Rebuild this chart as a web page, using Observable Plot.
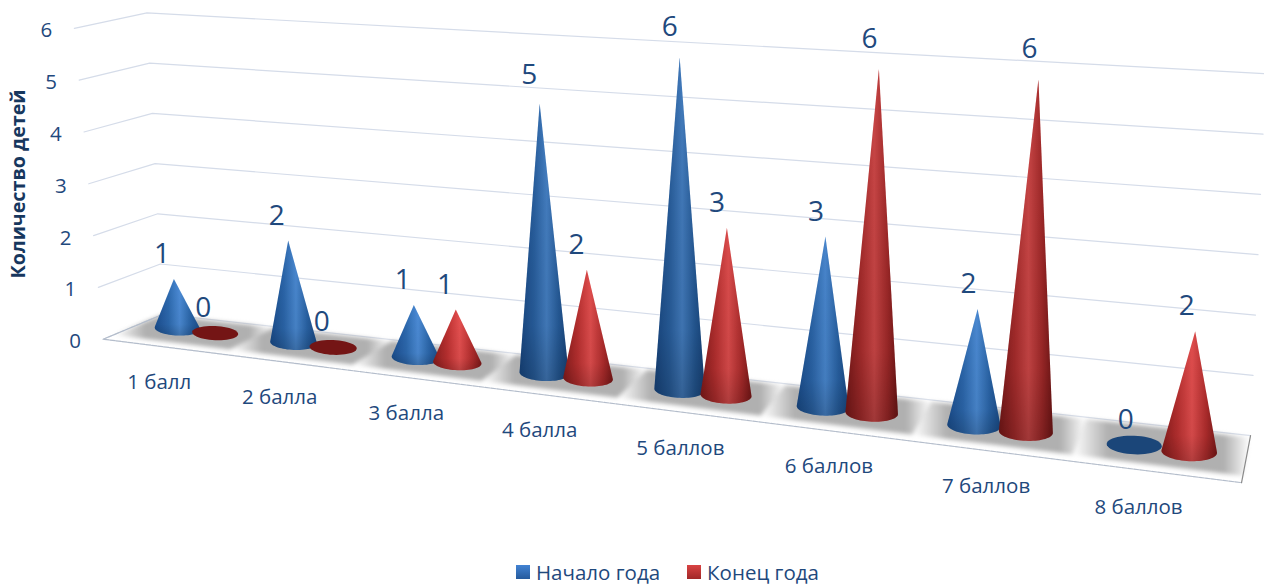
<!DOCTYPE html>
<html>
<head>
<meta charset="utf-8">
<script src="https://cdn.jsdelivr.net/npm/d3@7"></script>
<script src="https://cdn.jsdelivr.net/npm/@observablehq/plot@0.6"></script>
<style>
html,body{margin:0;padding:0;background:#fff;overflow:hidden;font-family:"Open Sans",sans-serif}
#legend{height:32px;display:flex;align-items:center;color:#1f497d;font-size:20.5px;padding-left:516px;box-sizing:border-box;line-height:1;padding-top:8px}
#legend i{display:inline-block;width:14px;height:14px;margin-right:6px}
#legend span{display:inline-flex;align-items:center;margin-right:27px}
</style>
</head>
<body>
<div id="chart"></div>
<div id="legend"></div>
<script>
const categories = ["1 балл","2 балла","3 балла","4 балла","5 баллов","6 баллов","7 баллов","8 баллов"];
const startOfYear = [1,2,1,5,6,3,2,0];
const endOfYear = [0,0,1,2,3,6,6,2];
const levels = [0,1,2,3,4,5,6];
const seriesNames = ["Начало года","Конец года"];
const axisTitle = "Количество детей";

const W = 1264, H = 552;
const ink = "#1f497d";

// Perspective view of the chart's box: p runs along the categories, d across the floor
// (-1 front edge, 0 the row of cones, 1 back wall), level is the value axis.
const along = p => (108.9 * p + 177) / (1 - 0.0245 * p);
const pL = -0.335, pR = 7.665;
const lerp = (a, b, t) => a + (b - a) * t;
const tOf = p => (along(p) - along(pL)) / (along(pR) - along(pL));
function place(p, d, level = 0) {
  const x0 = along(p), t = tOf(p);
  const y0 = 306.44 + 0.1218 * x0;
  const dx = d > 0 ? lerp(23.3, 4.4, t) * d : lerp(36.7, 4.6, t) * d;
  const dy = d > 0 ? lerp(-9.7, -23, t) * d : lerp(-15.3, -24, t) * d;
  const lean = 0.9 * (p - 4) + d * lerp(d > 0 ? 1.2 : 0.9, -0.8, t);
  const unit = 49.6 + 1.45 * p + Math.abs(d) * lerp(d > 0 ? 1.1 : 2.7, -0.4, t);
  return {x: x0 + dx + lean * level, y: y0 + dy - unit * level};
}
const depth = p => 1 / (1 - 0.0245 * p);

// Cones
const seriesOffset = [0, 0.33];
const seriesValues = [startOfYear, endOfYear];
const cones = [];
categories.forEach((c, i) => seriesValues.forEach((vals, s) => {
  cones.push({category: c, series: s, p: i + seriesOffset[s], value: vals[i]});
}));
function conePoints(c) {
  const base = place(c.p, 0, 0), apex = place(c.p, 0, c.value);
  const a = 22.8 * depth(c.p), b = 7 * Math.pow(depth(c.p), 1.5);
  const pts = [];
  const ell = th => ({x: base.x + a * Math.cos(th), y: base.y + b * Math.sin(th) + 0.04 * a * Math.cos(th)});
  if (c.value === 0) {
    d3.range(48).forEach(k => pts.push(ell(k / 48 * 2 * Math.PI)));
    return pts;
  }
  const lift = Math.asin(Math.min(0.9, b / (base.y - apex.y)));
  pts.push(apex);
  d3.range(37).forEach(k => pts.push(ell(-lift + (Math.PI + 2 * lift) * k / 36)));
  return pts;
}
const coneFill = ["url(#coneBlue)", "url(#coneRed)"];
const discFill = ["#1b4679", "#741515"];
const coneMarks = cones.flatMap(c => {
  const pts = conePoints(c);
  const opts = {x: "x", y: "y", stroke: "none", curve: "linear-closed"};
  if (c.value === 0) return [Plot.line(pts, {...opts, fill: discFill[c.series]})];
  return [
    Plot.line(pts, {...opts, fill: coneFill[c.series]}),
    Plot.line(pts, {...opts, fill: "url(#coneShade)"}),
    Plot.line(pts, {...opts, fill: "#000", fillOpacity: c.value * 0.025})
  ];
});

// Walls
const gridLines = levels.flatMap(l => [place(pL, -1, l), place(pL, 1, l), place(pR, 1, l)].map(q => ({...q, level: l})));
const bands = categories.flatMap((c, i) => {
  const a = i + 0.165 - 0.5, b = i + 0.165 + 0.5;
  return [[a, -0.72], [b, -0.72], [b, 0.92], [a, 0.92]].map(([p, d]) => ({...place(p, d), c}));
});
const floorEdge = [[pL, 1], [pL, -1], [pR, -1]].map(([p, d]) => place(p, d));
const floorRight = [[pR, 1], [pR, -1]].map(([p, d]) => place(p, d));

// Texts
const valueLabels = cones.map(c => {
  const q = place(c.p, 0, c.value);
  return {x: q.x - 12 + 0.5 * c.p, y: q.y - 25 - Math.max(0, c.value - 3) * 1.7, text: String(c.value)};
});
const catLabels = categories.map((c, i) => ({...place(i + 0.165, -1), text: c, shift: i === categories.length - 1 ? -16 : -2}));
const levelLabels = levels.map(l => ({...place(pL, -1, l), text: String(l)}));

const plot = Plot.plot({
  width: W, height: H,
  margin: 0,
  x: {type: "linear", domain: [0, W], range: [0, W], axis: null},
  y: {type: "linear", domain: [0, H], range: [0, H], axis: null},
  style: {fontFamily: '"Open Sans", sans-serif', background: "#fff"},
  marks: [
    Plot.line(gridLines, {x: "x", y: "y", z: "level", stroke: "#d5dce9", strokeWidth: 1.2}),
    Plot.line(bands, {x: "x", y: "y", z: "c", fill: "url(#band)", stroke: "none", curve: "linear-closed"}),
    Plot.line(floorEdge, {x: "x", y: "y", stroke: "#b4bdcb", strokeWidth: 1.2, strokeDasharray: "5 1"}),
    Plot.line(floorRight, {x: "x", y: "y", stroke: "#8a8a8a", strokeWidth: 1.2}),
    ...coneMarks,
    Plot.text(valueLabels, {x: "x", y: "y", text: "text", fontSize: 28, fill: ink}),
    Plot.text(catLabels, {x: d => d.x + d.shift, y: "y", text: "text", dy: 36, fontSize: 20.5, fill: ink}),
    Plot.text(levelLabels, {x: "x", y: "y", text: "text", dx: -28, dy: 2.5, fontSize: 20.5, fill: ink}),
    Plot.text([axisTitle], {frameAnchor: "left", textAnchor: "middle", dx: 18, dy: -92.5, rotate: -90, fontSize: 19.7, fontWeight: "bold", fill: "#17375e"})
  ]
});

d3.select(plot).insert("defs", ":first-child").html(`
  <linearGradient id="coneBlue" x1="0" x2="1" y1="0" y2="0">
    <stop offset="0" stop-color="#1c5296"/><stop offset="0.3" stop-color="#2f6db5"/>
    <stop offset="0.55" stop-color="#4e90dc"/><stop offset="0.8" stop-color="#2b68ae"/>
    <stop offset="1" stop-color="#1b4f8f"/>
  </linearGradient>
  <linearGradient id="coneRed" x1="0" x2="1" y1="0" y2="0">
    <stop offset="0" stop-color="#8f1d1d"/><stop offset="0.3" stop-color="#c43434"/>
    <stop offset="0.55" stop-color="#ec5252"/><stop offset="0.8" stop-color="#bb3030"/>
    <stop offset="1" stop-color="#841a1a"/>
  </linearGradient>
  <linearGradient id="coneShade" x1="0" x2="0" y1="0" y2="1">
    <stop offset="0" stop-color="#000" stop-opacity="0"/>
    <stop offset="0.8" stop-color="#000" stop-opacity="0.06"/>
    <stop offset="1" stop-color="#000" stop-opacity="0.2"/>
  </linearGradient>
  <linearGradient id="band" x1="0" x2="1" y1="0" y2="0">
    <stop offset="0" stop-color="#fff"/><stop offset="0.2" stop-color="#b0b0b0"/>
    <stop offset="0.85" stop-color="#b0b0b0"/><stop offset="1" stop-color="#fff"/>
  </linearGradient>`);
plot.querySelectorAll('[fill="url(#band)"]').forEach(n => n.style.filter = "blur(2px)");
document.getElementById("chart").append(plot);
plot.style.display = "block";

const swatches = ["linear-gradient(#4283d3,#255a9c)", "linear-gradient(#d94343,#a12828)"];
document.getElementById("legend").innerHTML = seriesNames.map((n, i) =>
  `<span><i style="background:${swatches[i]}"></i>${n}</span>`).join("");
</script>
</body>
</html>
